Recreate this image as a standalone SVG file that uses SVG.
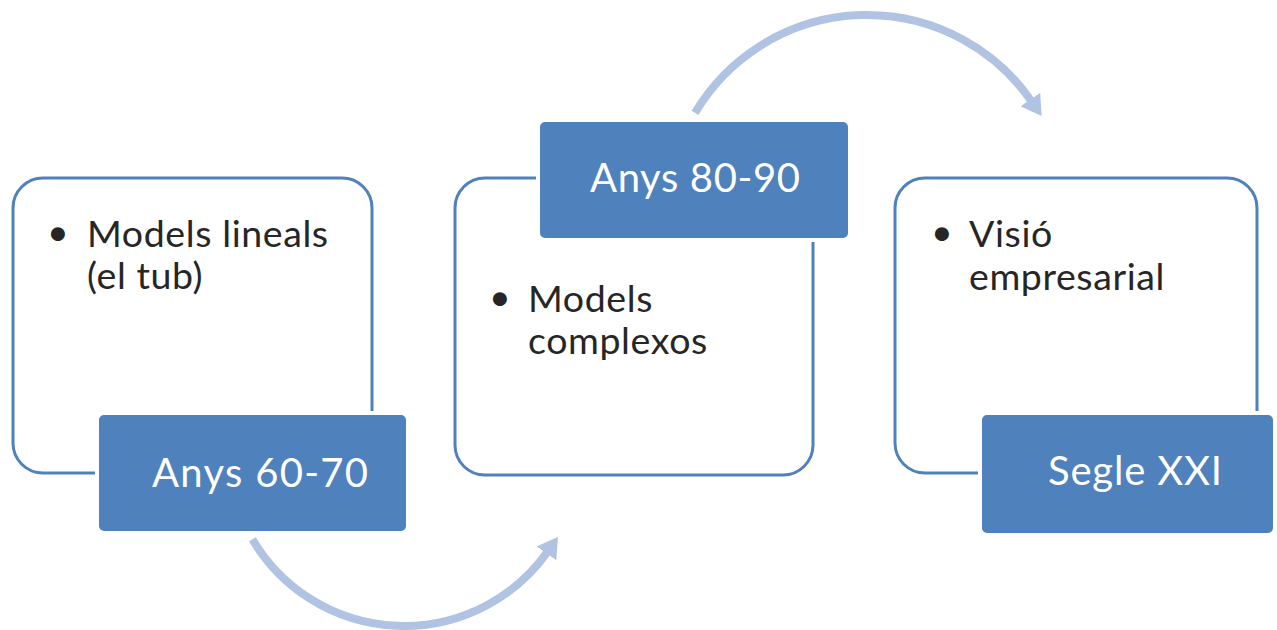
<svg xmlns="http://www.w3.org/2000/svg" width="1277" height="630" viewBox="0 0 1277 630">
  <defs>
    <style>
      .panel { fill: #ffffff; stroke: #4f81bd; stroke-width: 3; }
      .tab { fill: #4f81bd; stroke: #ffffff; stroke-width: 4; }
      .tab-label { font-family: Lato, "Liberation Sans", sans-serif; font-size: 40px; fill: #ffffff; }
      .item { font-family: Lato, "Liberation Sans", sans-serif; font-size: 37.5px; letter-spacing: 0.6px; fill: #262626; }
      .flow { fill: none; stroke: #b0c3e3; stroke-width: 8; }
    </style>
    <marker id="head" markerUnits="userSpaceOnUse" viewBox="0 0 20 24" markerWidth="20" markerHeight="24" refX="3" refY="12" orient="auto">
      <path d="M0,0 L20,12 L0,24 z" fill="#b0c3e3"/>
    </marker>
  </defs>

  <rect width="1277" height="630" fill="#ffffff"/>

  <!-- curved connectors between stages -->
  <g id="connectors">
    <path class="flow" d="M252.4,539.3 A176,176 0 0 0 548.2,550.9" marker-end="url(#head)"/>
    <path class="flow" d="M695,112.9 A200,200 0 0 1 1032,102" marker-end="url(#head)"/>
  </g>

  <!-- stage 1 -->
  <g id="stage-60-70">
    <rect class="panel" x="13" y="178" width="359" height="295" rx="30"/>
    <text class="item"><tspan x="47" y="245">•</tspan><tspan x="87" y="247">Models lineals</tspan><tspan x="87" y="289">(el tub)</tspan></text>
    <rect class="tab" x="97" y="413" width="311" height="120" rx="7"/>
    <text class="tab-label" x="152" y="487" textLength="216" lengthAdjust="spacing">Anys 60-70</text>
  </g>

  <!-- stage 2 -->
  <g id="stage-80-90">
    <rect class="panel" x="455" y="178" width="358" height="297" rx="30"/>
    <text class="item"><tspan x="489" y="310">•</tspan><tspan x="528" y="312">Models</tspan><tspan x="528" y="354">complexos</tspan></text>
    <rect class="tab" x="538" y="120" width="312" height="120" rx="7"/>
    <text class="tab-label" x="590" y="192" textLength="210" lengthAdjust="spacing">Anys 80-90</text>
  </g>

  <!-- stage 3 -->
  <g id="stage-xxi">
    <rect class="panel" x="895" y="178" width="362" height="295" rx="30"/>
    <text class="item"><tspan x="931" y="245">•</tspan><tspan x="969" y="247">Visió</tspan><tspan x="969" y="290">empresarial</tspan></text>
    <rect class="tab" x="980" y="413" width="295" height="122" rx="7"/>
    <text class="tab-label" x="1048" y="485" textLength="174" lengthAdjust="spacing">Segle XXI</text>
  </g>
</svg>
